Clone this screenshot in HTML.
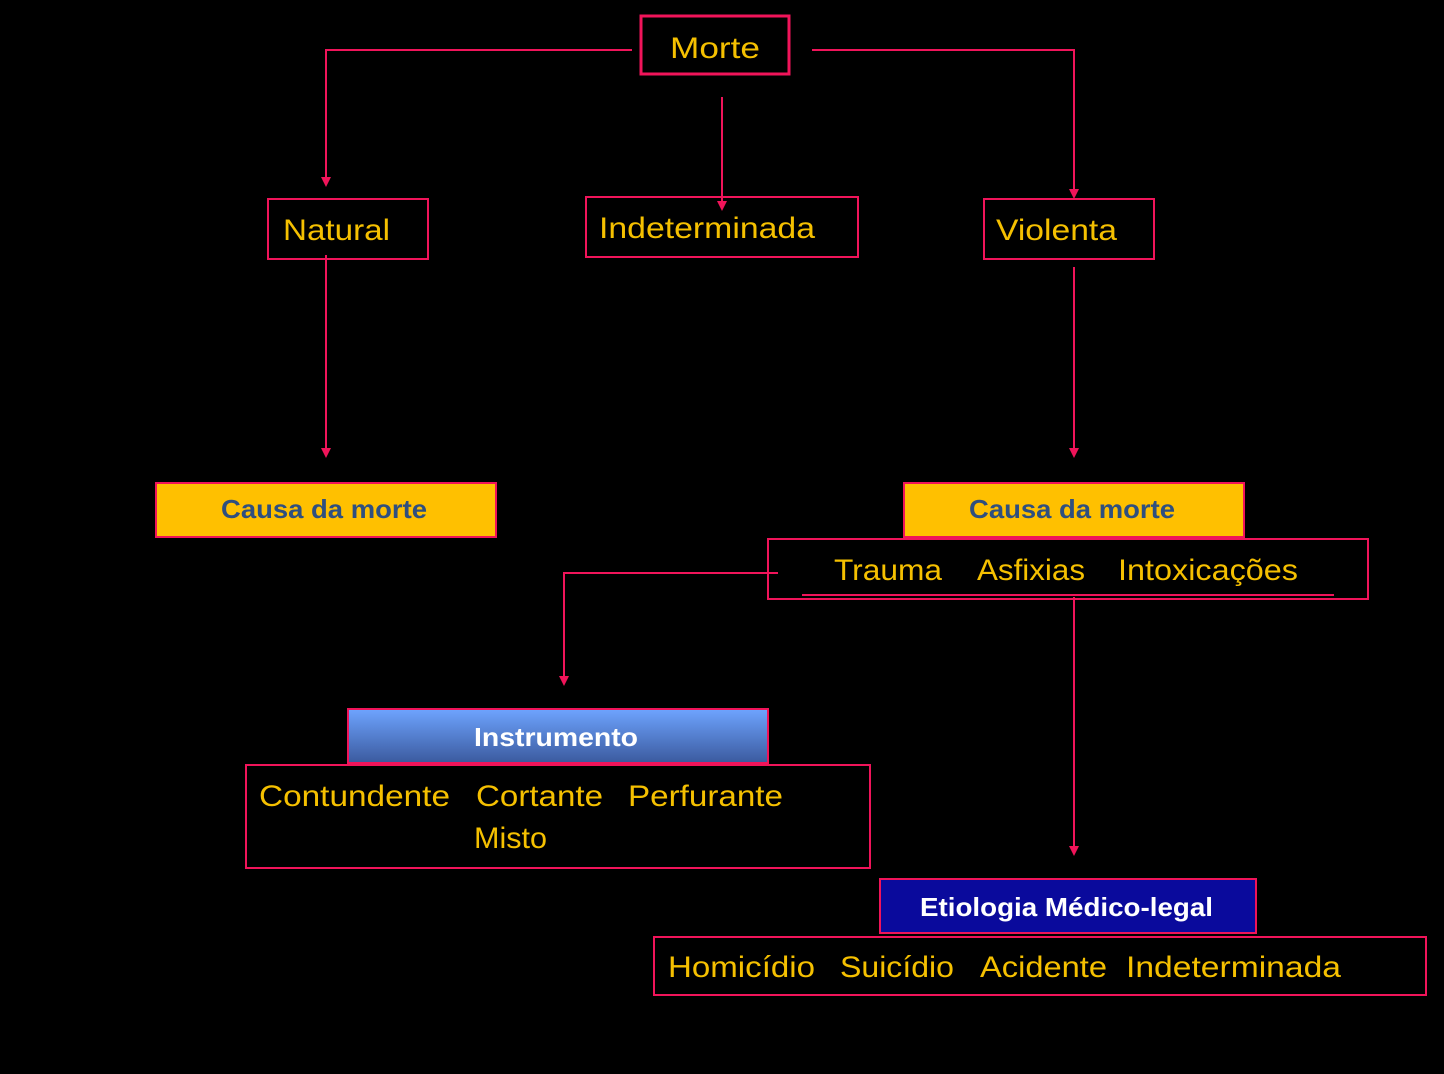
<!DOCTYPE html>
<html><head><meta charset="utf-8"><style>
html,body{margin:0;padding:0;background:#000;}
svg{display:block;}
text{font-family:"Liberation Sans",sans-serif;}
.y{fill:#f5c000;font-size:30px;}
.b{font-weight:bold;font-size:26px;}
</style></head><body>
<svg width="1444" height="1074" viewBox="0 0 1444 1074" xmlns="http://www.w3.org/2000/svg">
<defs>
<marker id="a" markerWidth="10" markerHeight="10" refX="5" refY="8" orient="auto" markerUnits="userSpaceOnUse">
<path d="M0,0 L10,0 L5,9 Z" fill="#f0145a" transform="rotate(-90 5 5)"/>
</marker>
<linearGradient id="g" x1="0" y1="0" x2="0" y2="1"><stop offset="0" stop-color="#6ea4ff"/><stop offset="1" stop-color="#3b5a9e"/></linearGradient>
</defs>
<rect width="1444" height="1074" fill="#000"/>
<g stroke="#f0145a" stroke-width="2" fill="none">
<polyline points="632,50 326,50 326,178"/>
<polyline points="812,50 1074,50 1074,190"/>
<line x1="722" y1="97" x2="722" y2="203"/>
<line x1="326" y1="255" x2="326" y2="450"/>
<line x1="1074" y1="267" x2="1074" y2="450"/>
<polyline points="778,573 564,573 564,678"/>
<line x1="1074" y1="597" x2="1074" y2="848"/>
<line x1="802" y1="595" x2="1334" y2="595"/>
</g>
<g fill="#f0145a">
<path d="M321,177 L331,177 L326,187 Z"/>
<path d="M1069,189 L1079,189 L1074,199 Z"/>
<path d="M717,201 L727,201 L722,211 Z"/>
<path d="M321,448 L331,448 L326,458 Z"/>
<path d="M1069,448 L1079,448 L1074,458 Z"/>
<path d="M559,676 L569,676 L564,686 Z"/>
<path d="M1069,846 L1079,846 L1074,856 Z"/>
</g>
<g stroke="#f0145a" fill="none">
<rect x="641" y="16" width="148" height="58" stroke-width="3"/>
<rect x="268" y="199" width="160" height="60" stroke-width="2"/>
<rect x="586" y="197" width="272" height="60" stroke-width="2"/>
<rect x="984" y="199" width="170" height="60" stroke-width="2"/>
<rect x="768" y="539" width="600" height="60" stroke-width="2"/>
<rect x="246" y="765" width="624" height="103" stroke-width="2"/>
<rect x="654" y="937" width="772" height="58" stroke-width="2"/>
</g>
<rect x="156" y="483" width="340" height="54" fill="#ffc000" stroke="#f0145a" stroke-width="2"/>
<rect x="904" y="483" width="340" height="54" fill="#ffc000" stroke="#f0145a" stroke-width="2"/>
<rect x="348" y="709" width="420" height="54" fill="url(#g)" stroke="#f0145a" stroke-width="2"/>
<rect x="880" y="879" width="376" height="54" fill="#0a0a9c" stroke="#f0145a" stroke-width="2"/>

<text class="y" x="670" y="58" textLength="90" lengthAdjust="spacingAndGlyphs">Morte</text>
<text class="y" x="283" y="240" textLength="107" lengthAdjust="spacingAndGlyphs">Natural</text>
<text class="y" x="599" y="238" textLength="216" lengthAdjust="spacingAndGlyphs">Indeterminada</text>
<text class="y" x="996" y="240" textLength="121" lengthAdjust="spacingAndGlyphs">Violenta</text>

<text class="b" x="221" y="518" fill="#2f4f7f" textLength="206" lengthAdjust="spacingAndGlyphs">Causa da morte</text>
<text class="b" x="969" y="518" fill="#2f4f7f" textLength="206" lengthAdjust="spacingAndGlyphs">Causa da morte</text>

<text class="y" x="834" y="580" textLength="108" lengthAdjust="spacingAndGlyphs">Trauma</text>
<text class="y" x="977" y="580" textLength="108" lengthAdjust="spacingAndGlyphs">Asfixias</text>
<text class="y" x="1118" y="580" textLength="180" lengthAdjust="spacingAndGlyphs">Intoxicações</text>

<text class="b" x="474" y="746" fill="#fff" textLength="164" lengthAdjust="spacingAndGlyphs">Instrumento</text>
<text class="y" x="259" y="806" textLength="191" lengthAdjust="spacingAndGlyphs">Contundente</text>
<text class="y" x="476" y="806" textLength="127" lengthAdjust="spacingAndGlyphs">Cortante</text>
<text class="y" x="628" y="806" textLength="155" lengthAdjust="spacingAndGlyphs">Perfurante</text>
<text class="y" x="474" y="848" textLength="73" lengthAdjust="spacingAndGlyphs">Misto</text>

<text class="b" x="920" y="916" fill="#fff" textLength="293" lengthAdjust="spacingAndGlyphs">Etiologia Médico-legal</text>
<text class="y" x="668" y="977" textLength="147" lengthAdjust="spacingAndGlyphs">Homicídio</text>
<text class="y" x="840" y="977" textLength="114" lengthAdjust="spacingAndGlyphs">Suicídio</text>
<text class="y" x="980" y="977" textLength="127" lengthAdjust="spacingAndGlyphs">Acidente</text>
<text class="y" x="1126" y="977" textLength="215" lengthAdjust="spacingAndGlyphs">Indeterminada</text>
</svg>
</body></html>
